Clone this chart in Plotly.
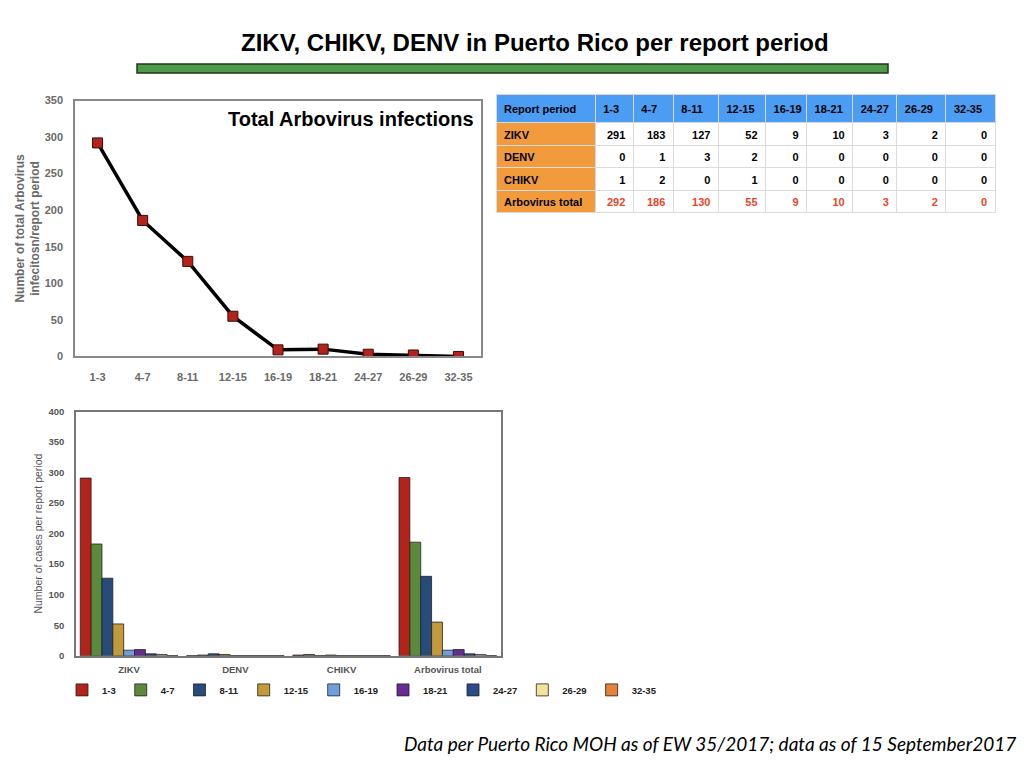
import plotly.graph_objects as go

periods = ["1-3", "4-7", "8-11", "12-15", "16-19", "18-21", "24-27", "26-29", "32-35"]
zikv = [291, 183, 127, 52, 9, 10, 3, 2, 0]
denv = [0, 1, 3, 2, 0, 0, 0, 0, 0]
chikv = [1, 2, 0, 1, 0, 0, 0, 0, 0]
arbo_total = [292, 186, 130, 55, 9, 10, 3, 2, 0]
viruses = ["ZIKV", "DENV", "CHIKV", "Arbovirus total"]
period_colors = ["#b3231a", "#5b8a3c", "#274b7a", "#c29a3a", "#6d9fdc",
                 "#6a2a96", "#2b4a8a", "#f3e39a", "#e5823a"]

W, H = 1024, 768
def px(x): return x / W
def py(y): return 1 - y / H

fig = go.Figure()

# Top line chart
fig.add_trace(go.Scatter(
    x=periods, y=arbo_total, mode="lines+markers",
    line=dict(color="black", width=3.5),
    marker=dict(symbol="square", size=10, color="#b3231a",
                line=dict(color="#3a0a06", width=1)),
    xaxis="x", yaxis="y", showlegend=False, hoverinfo="x+y"))

# Bottom grouped bars
rows = [zikv, denv, chikv, arbo_total]
for i, p in enumerate(periods):
    fig.add_trace(go.Bar(
        x=viruses, y=[r[i] for r in rows], name=p,
        marker=dict(color=period_colors[i], line=dict(color="#222", width=0.8)),
        xaxis="x2", yaxis="y2", showlegend=True))

# Table
col_widths = [99, 38, 40, 45, 47, 41, 46, 44, 49, 49]
first_col = ["ZIKV", "DENV", "CHIKV", "Arbovirus total"]
cols = [first_col] + [[zikv[i], denv[i], chikv[i], arbo_total[i]] for i in range(len(periods))]
font_colors = [["black"] * 4] + [["black", "black", "black", "#e8452c"] for _ in periods]
fills = [["#f19b3c"] * 4] + [["white"] * 4 for _ in periods]
fig.add_trace(go.Table(
    domain=dict(x=[px(496), px(995)], y=[py(300), py(90)]),
    columnwidth=col_widths,
    header=dict(values=["<b>Report period</b>"] + ["<b>%s</b>" % p for p in periods],
                fill_color="#4b9cf3", line_color="#d8d8d8",
                align="left", height=22,
                font=dict(family="Liberation Sans", size=11, color="black")),
    cells=dict(values=cols, fill_color=fills, line_color="#dcdcdc",
               align=["left"] + ["right"] * len(periods), height=22.5,
               font=dict(family="Liberation Sans", size=11, color=font_colors,
                         weight="bold"))))

axis_font = dict(family="Liberation Sans", size=11, color="#6a6a6a", weight="bold")
fig.update_layout(
    width=W, height=H, margin=dict(l=0, r=0, t=0, b=0),
    paper_bgcolor="white", plot_bgcolor="white",
    font=dict(family="Liberation Sans"),
    barmode="group", bargap=0.08, bargroupgap=0,
    xaxis=dict(domain=[px(75), px(481)], anchor="y", type="category",
               range=[-0.5, 8.5], showline=True, linecolor="#888", mirror=True,
               linewidth=1.5, showgrid=False, ticks="", tickfont=axis_font,
               ticklabelstandoff=10),
    yaxis=dict(domain=[py(356), py(96)], anchor="x", range=[0, 350], dtick=50,
               showline=True, linecolor="#888", mirror=True, linewidth=1.5,
               showgrid=False, zeroline=False, ticks="", tickfont=axis_font,
               ticklabelstandoff=8,
               title=dict(text="Number of total Arbovirus<br>infecitosn/report period",
                          font=dict(family="Liberation Sans", size=12, color="#6a6a6a",
                                    weight="bold"), standoff=2)),
    xaxis2=dict(domain=[px(76), px(501)], anchor="y2", type="category",
                showline=True, linecolor="#777", mirror=True, linewidth=1.5,
                showgrid=False, ticks="",
                tickfont=dict(family="Liberation Sans", size=9.5, color="#555", weight="bold"),
                ticklabelstandoff=4),
    yaxis2=dict(domain=[py(660), py(412)], anchor="x2", range=[0, 400], dtick=50,
                showline=True, linecolor="#777", mirror=True, linewidth=1.5,
                showgrid=False, zeroline=False, ticks="",
                tickfont=dict(family="Liberation Sans", size=9.5, color="#555", weight="bold"),
                ticklabelstandoff=8,
                title=dict(text="Number of cases per report period",
                           font=dict(family="Liberation Sans", size=10.5, color="#555"),
                           standoff=4)),
    legend=dict(orientation="h", x=px(62), y=py(680), xanchor="left", yanchor="top",
                font=dict(family="Liberation Sans", size=9.5, color="#222", weight="bold"),
                itemwidth=30, tracegroupgap=0, bgcolor="rgba(0,0,0,0)"),
)

fig.add_shape(type="rect", xref="paper", yref="paper",
              x0=px(137), x1=px(888), y0=py(68), y1=py(59),
              fillcolor="#4f9a4a", line=dict(color="#1d3a1b", width=1.5))

fig.add_annotation(text="<b>ZIKV, CHIKV, DENV in Puerto Rico per report period</b>",
                   xref="paper", yref="paper", x=px(535), y=py(37),
                   showarrow=False, xanchor="center", yanchor="middle",
                   font=dict(family="Liberation Sans", size=24, color="black"))
fig.add_annotation(text="<b>Total Arbovirus infections</b>",
                   xref="paper", yref="paper", x=px(476), y=py(115),
                   showarrow=False, xanchor="right", yanchor="middle",
                   font=dict(family="Liberation Sans", size=20, color="black"))
fig.add_annotation(text="Data per Puerto Rico MOH as of EW 35/2017; data as of 15 September2017",
                   xref="paper", yref="paper", x=px(1018), y=py(749),
                   showarrow=False, xanchor="right", yanchor="middle",
                   font=dict(family="Lato", size=19, color="black", style="italic"))

fig.write_html("out.html", config=dict(displayModeBar=False),
               post_script="document.body.style.margin='0';document.body.style.overflow='hidden';")
